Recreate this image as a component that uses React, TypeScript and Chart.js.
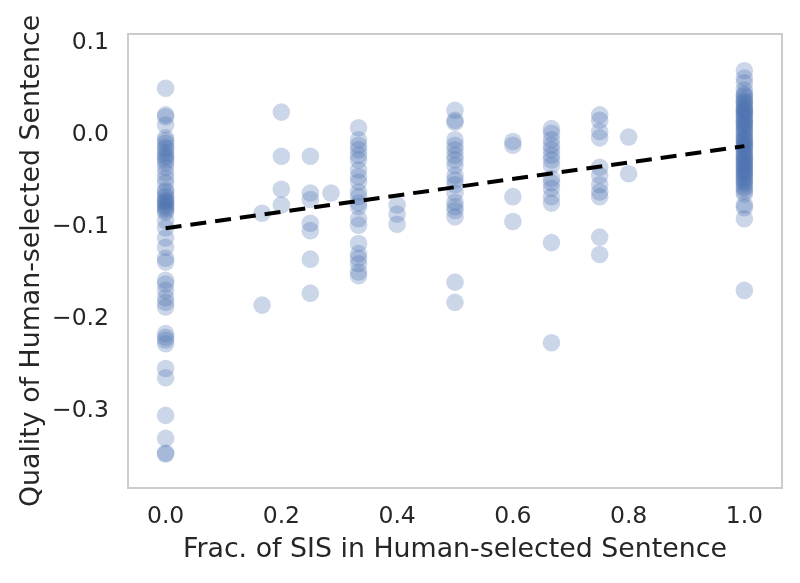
import { useEffect, useRef } from "react";
import { Chart, registerables } from "chart.js";

Chart.register(...registerables);

// ---- data ----
const xTickValues = [0, 0.2, 0.4, 0.6, 0.8, 1.0];
const yTickValues = [-0.3, -0.2, -0.1, 0.0, 0.1];

const fracValues = [0, 1 / 6, 0.2, 0.25, 2 / 7, 1 / 3, 0.4, 0.5, 0.6, 2 / 3, 0.75, 0.8, 1];

const qualityAt0 = [
  0.051, 0.022, 0.020, 0.011, -0.003, -0.006, -0.009, -0.013, -0.015, -0.019, -0.022, -0.024,
  -0.027, -0.030, -0.035, -0.041, -0.047, -0.052, -0.060, -0.062, -0.066, -0.068, -0.071,
  -0.072, -0.074, -0.076, -0.078, -0.080, -0.082, -0.084, -0.093, -0.101, -0.112, -0.122,
  -0.134, -0.138, -0.158, -0.162, -0.169, -0.177, -0.182, -0.187, -0.216, -0.220, -0.223,
  -0.227, -0.254, -0.264, -0.305, -0.330, -0.346, -0.347,
];
const qualityAtSixth = [-0.085, -0.185];
const qualityAtFifth = [0.025, -0.023, -0.059, -0.076];
const qualityAtQuarter = [-0.023, -0.063, -0.070, -0.096, -0.104, -0.135, -0.172];
const qualityAtTwoSevenths = [-0.063];
const qualityAtThird = [
  0.008, -0.005, -0.011, -0.016, -0.022, -0.027, -0.038, -0.045, -0.051, -0.062, -0.067,
  -0.074, -0.078, -0.091, -0.098, -0.118, -0.129, -0.134, -0.140, -0.149, -0.153,
];
const qualityAtTwoFifths = [-0.076, -0.086, -0.097];
const qualityAtHalf = [
  0.027, 0.016, 0.014, -0.005, -0.011, -0.016, -0.022, -0.027, -0.033, -0.044, -0.049,
  -0.054, -0.063, -0.073, -0.078, -0.082, -0.089, -0.160, -0.182,
];
const qualityAtThreeFifths = [-0.007, -0.011, -0.067, -0.094];
const qualityAtTwoThirds = [
  0.007, 0.002, -0.005, -0.011, -0.016, -0.022, -0.027, -0.033, -0.047, -0.052, -0.058,
  -0.067, -0.074, -0.117, -0.226,
];
const qualityAtThreeQuarters = [
  0.022, 0.016, 0.004, -0.003, -0.035, -0.044, -0.054, -0.062, -0.067, -0.111, -0.130,
];
const qualityAtFourFifths = [-0.002, -0.042];
const qualityAt1 = [
  0.070, 0.062, 0.057, 0.049, 0.045, 0.043, 0.041, 0.038, 0.036, 0.035, 0.032, 0.030, 0.028,
  0.027, 0.025, 0.024, 0.022, 0.020, 0.018, 0.016, 0.014, 0.013, 0.011, 0.009, 0.007, 0.005,
  0.003, 0.001, -0.002, -0.004, -0.005, -0.007, -0.009, -0.011, -0.012, -0.014, -0.016,
  -0.018, -0.020, -0.022, -0.024, -0.026, -0.027, -0.029, -0.031, -0.033, -0.034, -0.036,
  -0.038, -0.040, -0.041, -0.043, -0.045, -0.047, -0.049, -0.051, -0.053, -0.056, -0.058,
  -0.061, -0.064, -0.076, -0.079, -0.091, -0.169,
];

const qualityByFrac = [
  qualityAt0, qualityAtSixth, qualityAtFifth, qualityAtQuarter, qualityAtTwoSevenths,
  qualityAtThird, qualityAtTwoFifths, qualityAtHalf, qualityAtThreeFifths, qualityAtTwoThirds,
  qualityAtThreeQuarters, qualityAtFourFifths, qualityAt1,
];

const fitX = [0, 1];
const fitY = [-0.1014, -0.012];

const xTitle = "Frac. of SIS in Human-selected Sentence";
const yTitle = "Quality of Human-selected Sentence";

// ---- chart ----
const FONT = "'DejaVu Sans', 'Liberation Sans', sans-serif";
const TEXT = "#262626";

const fmt = (v: number) => {
  const r = Math.round(v * 10) / 10;
  return (r < 0 ? "\u2212" : "") + Math.abs(r).toFixed(1);
};

const framePlugin = {
  id: "frame",
  afterDraw(chart: any) {
    const { ctx, chartArea: a } = chart;
    ctx.save();
    ctx.strokeStyle = "#cccccc";
    ctx.lineWidth = 2;
    ctx.strokeRect(a.left, a.top, a.right - a.left, a.bottom - a.top);
    ctx.restore();
  },
};

export default function App() {
  const ref = useRef<HTMLCanvasElement | null>(null);

  useEffect(() => {
    if (!ref.current) return;
    const points: { x: number; y: number }[] = [];
    fracValues.forEach((f, i) => {
      qualityByFrac[i].forEach((q) => points.push({ x: f, y: q }));
    });
    const fit = fitX.map((x, i) => ({ x, y: fitY[i] }));

    const chart = new Chart(ref.current, {
      type: "scatter",
      data: {
        datasets: [
          {
            type: "line",
            data: fit,
            borderColor: "#000000",
            borderWidth: 4,
            borderDash: [16, 9],
            pointRadius: 0,
            fill: false,
          } as any,
          {
            type: "scatter",
            data: points,
            backgroundColor: "rgba(76,114,176,0.29)",
            borderColor: "rgba(76,114,176,0.29)",
            borderWidth: 0,
            pointRadius: 8.8,
            pointHoverRadius: 8.8,
          },
        ],
      },
      options: {
        animation: false,
        responsive: true,
        maintainAspectRatio: false,
        layout: { padding: { top: 34, right: 18, left: 0, bottom: 0 } },
        plugins: { legend: { display: false }, tooltip: { enabled: false } },
        scales: {
          x: {
            type: "linear",
            min: -0.065,
            max: 1.065,
            afterBuildTicks: (s: any) => {
              s.ticks = xTickValues.map((v) => ({ value: v }));
            },
            afterFit: (s: any) => {
              s.height = 95;
            },
            grid: { display: false, drawTicks: false },
            border: { display: false },
            ticks: {
              callback: (v: any) => fmt(Number(v)),
              font: { family: FONT, size: 23.5 },
              color: TEXT,
              padding: 15,
              maxRotation: 0,
              autoSkip: false,
            },
            title: {
              display: true,
              text: xTitle,
              font: { family: FONT, size: 26.8 },
              color: TEXT,
              padding: { top: 0, bottom: 17 },
            },
          },
          y: {
            type: "linear",
            min: -0.384,
            max: 0.11,
            afterBuildTicks: (s: any) => {
              s.ticks = yTickValues.map((v) => ({ value: v }));
            },
            afterFit: (s: any) => {
              s.width = 128;
            },
            grid: { display: false, drawTicks: false },
            border: { display: false },
            ticks: {
              callback: (v: any) => fmt(Number(v)),
              font: { family: FONT, size: 23.5 },
              color: TEXT,
              padding: 19,
              autoSkip: false,
            },
            title: {
              display: true,
              text: yTitle,
              font: { family: FONT, size: 26.8 },
              color: TEXT,
              padding: { top: 16, bottom: 0 },
            },
          },
        },
      },
      plugins: [framePlugin],
    });
    return () => chart.destroy();
  }, []);

  return (
    <div style={{ position: "fixed", left: 0, top: 0, width: 800, height: 583, background: "#ffffff" }}>
      <canvas ref={ref} />
    </div>
  );
}
